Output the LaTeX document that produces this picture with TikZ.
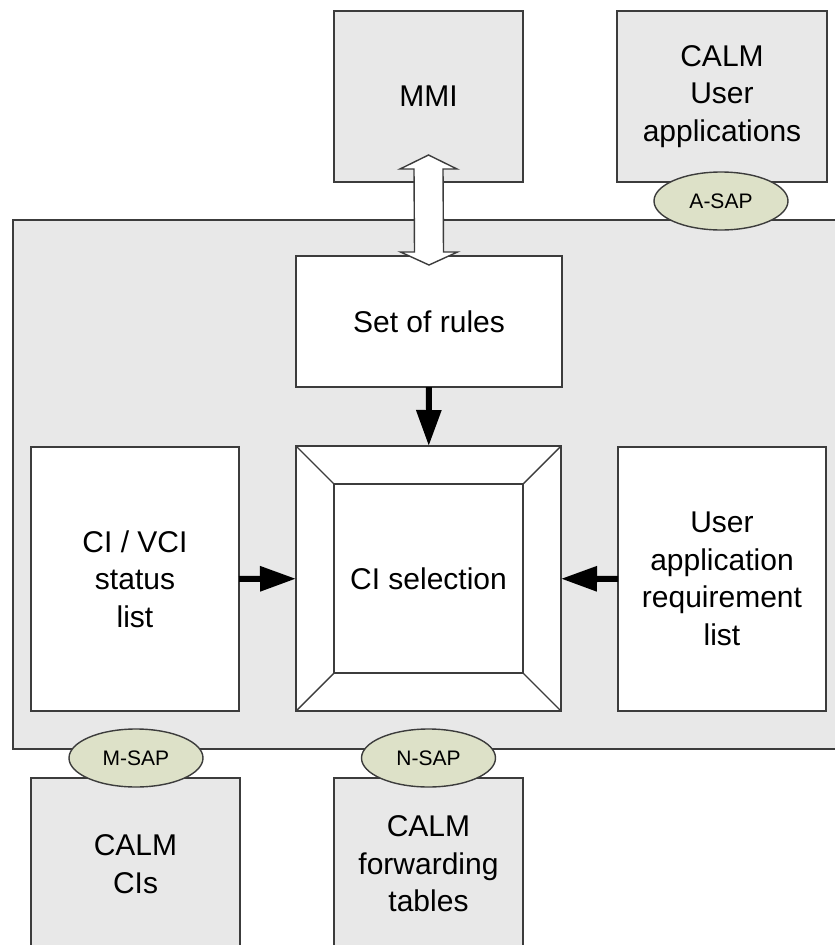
\documentclass[tikz,border=0pt]{standalone}
\usepackage{fontspec}
\setmainfont{Liberation Sans}
\usetikzlibrary{arrows.meta}
\usetikzlibrary{shapes.geometric}
\usetikzlibrary{calc}

\definecolor{boxgray}{RGB}{232,232,232}
\definecolor{sapgreen}{RGB}{221,225,200}
\definecolor{edgegray}{RGB}{60,60,60}

\begin{document}
\begin{tikzpicture}[x=1pt,y=-1pt]
\useasboundingbox (0,0) rectangle (835,945);

% CALM management frame
\draw[edgegray,line width=2pt,fill=boxgray] (12.7,220) rectangle (850,749);

\begin{scope}[every node/.style={rectangle,draw=edgegray,line width=1.4pt,inner sep=2pt,outer sep=0pt,align=center,font=\fontsize{30}{37.5}\selectfont}]
    \node[fill=boxgray,minimum width=189,minimum height=171] (mmi) at (428.5,96.5) {MMI};
    \node[fill=boxgray,minimum width=210,minimum height=171] (apps) at (722,96.5) {CALM\\User\\applications};
    \node[fill=white,minimum width=266,minimum height=131] (rules) at (429,321.5) {Set of rules};
    \node[fill=white,minimum width=265,minimum height=265] (selout) at (428.5,578.5) {};
    \node[fill=white,minimum width=189,minimum height=189] (sel) at (selout.center) {CI selection};
    \node[fill=white,minimum width=208,minimum height=264] (cilist) at (135,579) {CI / VCI\\status\\list};
    \node[fill=white,minimum width=208,minimum height=264] (ureq) at (722,579) {User\\application\\requirement\\list};
    \node[fill=boxgray,minimum width=209,minimum height=172] (cis) at (135.5,864) {CALM\\CIs};
    \node[fill=boxgray,minimum width=189,minimum height=172] (fwd) at (428.5,864) {CALM\\forwarding\\tables};
    \end{scope}

% bevel of the selection box
\foreach \c in {north west,north east,south east,south west}
    \draw[edgegray,line width=1.4pt] (selout.\c) -- (sel.\c);

\begin{scope}[>={Triangle[length=36pt,width=24pt]},
              every edge/.style={draw=black,line width=6pt}]
    \path [->] (rules) edge (selout);
    \path [->] (cilist) edge (selout);
    \path [->] (ureq) edge (selout);
    \end{scope}

\begin{scope}[every node/.style={ellipse,draw=edgegray,line width=1.4pt,fill=sapgreen,minimum width=134,minimum height=58,inner sep=0pt,font=\fontsize{21}{25}\selectfont}]
    \node (asap) at (721,201) {A-SAP};
    \node (msap) at (136,758) {M-SAP};
    \node (nsap) at (428.5,758) {N-SAP};
    \end{scope}

% hollow double arrow MMI <-> rules
\coordinate (dtop) at ($(mmi.south)+(0,-27)$);
\coordinate (dbot) at ($(rules.north)+(0,9)$);
\draw[edgegray,line width=1.4pt,fill=white] (dtop) -- ($(dtop)+(28.5,14)$) -- ($(dtop)+(14.5,14)$)
    -- ($(dbot)+(14.5,-13)$) -- ($(dbot)+(28.5,-13)$) -- (dbot) -- ($(dbot)+(-28.5,-13)$)
    -- ($(dbot)+(-14.5,-13)$) -- ($(dtop)+(-14.5,14)$) -- ($(dtop)+(-28.5,14)$) -- cycle;

\end{tikzpicture}
\end{document}
